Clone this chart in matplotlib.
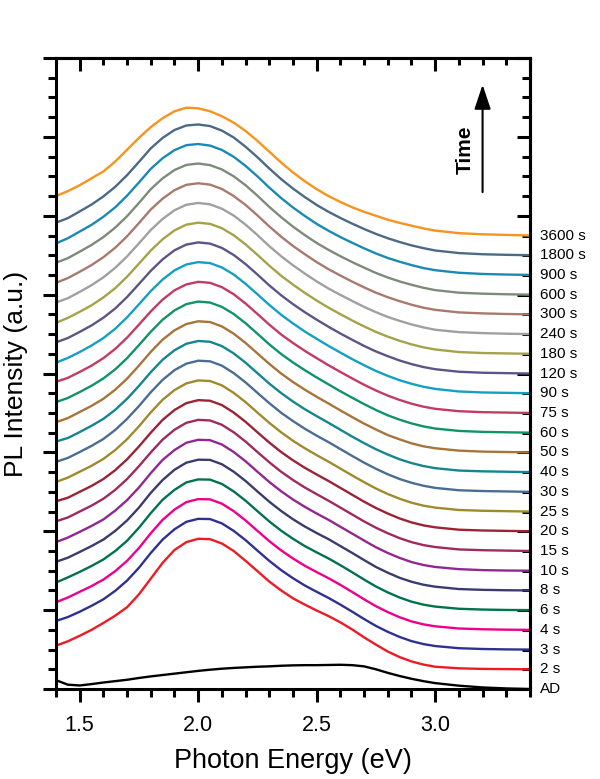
import matplotlib.pyplot as plt
from matplotlib.ticker import MultipleLocator, NullFormatter

plt.rcParams['font.family'] = ['Liberation Sans', 'DejaVu Sans']

energy = [1.40, 1.45, 1.50, 1.55, 1.60, 1.65, 1.70, 1.75, 1.80, 1.85, 1.90, 1.95,
          2.00, 2.05, 2.10, 2.15, 2.20, 2.25, 2.30, 2.35, 2.40, 2.45, 2.50, 2.55,
          2.60, 2.65, 2.70, 2.75, 2.80, 2.85, 2.90, 2.95, 3.00, 3.10, 3.20, 3.30, 3.40]

labels = ['AD', '2 s', '3 s', '4 s', '6 s', '8 s', '10 s', '15 s', '20 s', '25 s',
          '30 s', '40 s', '50 s', '60 s', '75 s', '90 s', '120 s', '180 s', '240 s',
          '300 s', '600 s', '900 s', '1800 s', '3600 s']

colors = ['#000000', '#ed1c24', '#2e3192', '#ec008c', '#00734a', '#3b3b6e', '#92278f',
          '#9e2a5e', '#9b2335', '#a08a2e', '#4b6d94', '#13868f', '#a8743a', '#0f9466',
          '#c23b62', '#13a0c4', '#5c5585', '#a6a24a', '#a0a0a0', '#a87a6e', '#7c8c78',
          '#1a8ab4', '#4a6a86', '#f7941d']

# PL intensity (a.u., before the stacking offset)
pl_ad = [0.45, 0.22, 0.18, 0.25, 0.33, 0.40, 0.47, 0.56, 0.64, 0.71, 0.78, 0.85,
         0.92, 0.98, 1.03, 1.07, 1.10, 1.13, 1.15, 1.18, 1.20, 1.21, 1.21, 1.22,
         1.23, 1.21, 1.15, 1.00, 0.82, 0.66, 0.52, 0.40, 0.30, 0.17, 0.08, 0.03, 0.00]
pl_2s = [1.20, 1.42, 1.70, 2.00, 2.35, 2.72, 3.15, 3.80, 4.60, 5.40, 6.05, 6.45,
         6.62, 6.60, 6.38, 6.00, 5.50, 4.98, 4.45, 4.00, 3.60, 3.28, 2.98, 2.70,
         2.38, 2.02, 1.62, 1.25, 0.90, 0.62, 0.40, 0.24, 0.13, 0.05, 0.02, 0.01, 0.00]
pl_3s = [1.45, 1.65, 1.92, 2.22, 2.55, 2.98, 3.50, 4.15, 4.90, 5.58, 6.10, 6.48,
         6.63, 6.62, 6.40, 6.02, 5.55, 5.02, 4.50, 4.03, 3.62, 3.25, 2.93, 2.62,
         2.28, 1.92, 1.55, 1.20, 0.90, 0.64, 0.43, 0.28, 0.18, 0.07, 0.03, 0.01, 0.00]
pl_4s = [1.40, 1.64, 1.93, 2.22, 2.55, 2.98, 3.50, 4.15, 4.90, 5.58, 6.10, 6.48,
         6.63, 6.62, 6.40, 6.02, 5.55, 5.02, 4.50, 4.03, 3.62, 3.25, 2.93, 2.62,
         2.28, 1.92, 1.55, 1.20, 0.90, 0.64, 0.43, 0.28, 0.18, 0.07, 0.03, 0.01, 0.00]
pl_6s = [1.40, 1.66, 1.94, 2.24, 2.57, 3.00, 3.52, 4.18, 4.92, 5.60, 6.10, 6.48,
         6.63, 6.62, 6.40, 6.02, 5.55, 5.02, 4.50, 4.03, 3.62, 3.25, 2.93, 2.62,
         2.28, 1.92, 1.55, 1.20, 0.90, 0.64, 0.43, 0.28, 0.18, 0.07, 0.03, 0.01, 0.00]
pl_8s = [1.45, 1.66, 1.95, 2.25, 2.58, 3.02, 3.55, 4.20, 4.95, 5.60, 6.12, 6.48,
         6.63, 6.62, 6.40, 6.02, 5.55, 5.02, 4.50, 4.03, 3.61, 3.24, 2.91, 2.60,
         2.25, 1.90, 1.54, 1.19, 0.90, 0.64, 0.44, 0.29, 0.19, 0.07, 0.03, 0.01, 0.00]
pl_10s = [1.45, 1.68, 1.97, 2.27, 2.60, 3.05, 3.58, 4.22, 4.95, 5.62, 6.12, 6.49,
          6.64, 6.62, 6.40, 6.02, 5.55, 5.02, 4.50, 4.03, 3.61, 3.24, 2.90, 2.58,
          2.23, 1.88, 1.53, 1.19, 0.90, 0.65, 0.44, 0.29, 0.19, 0.08, 0.03, 0.01, 0.00]
pl_15s = [1.50, 1.70, 2.00, 2.30, 2.65, 3.10, 3.65, 4.30, 5.00, 5.65, 6.15, 6.50,
          6.65, 6.62, 6.40, 6.02, 5.55, 5.02, 4.50, 4.02, 3.60, 3.22, 2.88, 2.55,
          2.20, 1.85, 1.50, 1.18, 0.90, 0.65, 0.45, 0.30, 0.20, 0.08, 0.04, 0.02, 0.00]
pl_20s = [1.52, 1.70, 2.00, 2.30, 2.65, 3.10, 3.65, 4.30, 5.00, 5.65, 6.15, 6.50,
          6.65, 6.62, 6.40, 6.02, 5.55, 5.02, 4.50, 4.02, 3.60, 3.22, 2.88, 2.55,
          2.20, 1.85, 1.50, 1.18, 0.90, 0.65, 0.45, 0.30, 0.20, 0.08, 0.04, 0.02, 0.00]
pl_25s = [1.50, 1.72, 2.02, 2.32, 2.67, 3.12, 3.67, 4.32, 5.03, 5.67, 6.16, 6.50,
          6.65, 6.62, 6.40, 6.02, 5.55, 5.02, 4.50, 4.02, 3.59, 3.21, 2.86, 2.53,
          2.18, 1.83, 1.49, 1.17, 0.89, 0.65, 0.45, 0.30, 0.20, 0.08, 0.04, 0.02, 0.00]
pl_30s = [1.52, 1.72, 2.02, 2.33, 2.68, 3.14, 3.70, 4.35, 5.05, 5.68, 6.17, 6.50,
          6.65, 6.62, 6.40, 6.02, 5.55, 5.02, 4.50, 4.01, 3.59, 3.20, 2.85, 2.52,
          2.17, 1.82, 1.48, 1.17, 0.89, 0.65, 0.46, 0.31, 0.20, 0.08, 0.04, 0.02, 0.00]
pl_40s = [1.55, 1.73, 2.03, 2.35, 2.70, 3.16, 3.72, 4.37, 5.07, 5.70, 6.18, 6.51,
          6.65, 6.61, 6.39, 6.02, 5.55, 5.02, 4.49, 4.01, 3.58, 3.19, 2.84, 2.50,
          2.15, 1.80, 1.47, 1.16, 0.89, 0.65, 0.46, 0.31, 0.20, 0.08, 0.04, 0.02, 0.00]
pl_50s = [1.53, 1.74, 2.05, 2.36, 2.72, 3.18, 3.74, 4.40, 5.10, 5.72, 6.19, 6.51,
          6.65, 6.61, 6.39, 6.02, 5.55, 5.02, 4.49, 4.00, 3.57, 3.18, 2.82, 2.48,
          2.13, 1.79, 1.46, 1.16, 0.88, 0.66, 0.46, 0.31, 0.21, 0.09, 0.04, 0.02, 0.00]
pl_60s = [1.55, 1.76, 2.06, 2.38, 2.75, 3.21, 3.78, 4.44, 5.12, 5.73, 6.20, 6.52,
          6.65, 6.60, 6.38, 6.02, 5.55, 5.02, 4.48, 3.99, 3.56, 3.17, 2.80, 2.45,
          2.10, 1.77, 1.45, 1.15, 0.88, 0.66, 0.47, 0.32, 0.21, 0.09, 0.04, 0.02, 0.00]
pl_75s = [1.58, 1.78, 2.08, 2.40, 2.78, 3.25, 3.82, 4.48, 5.15, 5.75, 6.22, 6.52,
          6.65, 6.60, 6.38, 6.02, 5.55, 5.02, 4.48, 3.98, 3.55, 3.15, 2.78, 2.42,
          2.08, 1.75, 1.43, 1.14, 0.88, 0.66, 0.47, 0.32, 0.21, 0.09, 0.04, 0.02, 0.00]
pl_90s = [1.55, 1.79, 2.09, 2.42, 2.80, 3.27, 3.85, 4.51, 5.18, 5.77, 6.23, 6.53,
          6.65, 6.60, 6.38, 6.02, 5.55, 5.02, 4.48, 3.98, 3.54, 3.13, 2.76, 2.40,
          2.06, 1.73, 1.42, 1.13, 0.88, 0.66, 0.48, 0.33, 0.22, 0.09, 0.04, 0.02, 0.00]
pl_120s = [1.58, 1.80, 2.11, 2.44, 2.83, 3.30, 3.88, 4.54, 5.21, 5.79, 6.25, 6.54,
           6.65, 6.59, 6.37, 6.01, 5.55, 5.02, 4.47, 3.97, 3.52, 3.11, 2.73, 2.37,
           2.03, 1.71, 1.40, 1.12, 0.88, 0.66, 0.48, 0.33, 0.22, 0.09, 0.04, 0.02, 0.00]
pl_180s = [1.57, 1.82, 2.13, 2.46, 2.86, 3.33, 3.91, 4.57, 5.24, 5.81, 6.26, 6.55,
           6.65, 6.59, 6.37, 6.01, 5.55, 5.02, 4.47, 3.96, 3.51, 3.09, 2.70, 2.34,
           2.01, 1.69, 1.39, 1.11, 0.87, 0.66, 0.48, 0.33, 0.22, 0.09, 0.04, 0.02, 0.00]
pl_240s = [1.60, 1.82, 2.14, 2.48, 2.88, 3.36, 3.94, 4.60, 5.28, 5.84, 6.28, 6.56,
           6.65, 6.58, 6.36, 6.01, 5.55, 5.02, 4.46, 3.95, 3.49, 3.07, 2.67, 2.31,
           1.99, 1.68, 1.38, 1.11, 0.87, 0.67, 0.49, 0.34, 0.22, 0.10, 0.05, 0.02, 0.00]
pl_300s = [1.60, 1.84, 2.16, 2.50, 2.90, 3.38, 3.96, 4.63, 5.32, 5.87, 6.30, 6.57,
           6.65, 6.58, 6.36, 6.00, 5.55, 5.02, 4.46, 3.94, 3.47, 3.05, 2.65, 2.29,
           1.97, 1.66, 1.37, 1.10, 0.87, 0.67, 0.49, 0.34, 0.23, 0.10, 0.05, 0.02, 0.00]
pl_600s = [1.62, 1.85, 2.18, 2.52, 2.92, 3.40, 3.98, 4.65, 5.35, 5.90, 6.32, 6.58,
           6.65, 6.57, 6.35, 6.00, 5.55, 5.02, 4.45, 3.93, 3.45, 3.02, 2.62, 2.27,
           1.95, 1.65, 1.37, 1.10, 0.87, 0.67, 0.50, 0.35, 0.23, 0.10, 0.05, 0.02, 0.00]
pl_900s = [1.60, 1.86, 2.20, 2.54, 2.95, 3.43, 4.02, 4.69, 5.38, 5.92, 6.33, 6.58,
           6.64, 6.56, 6.34, 5.99, 5.53, 5.00, 4.43, 3.90, 3.42, 2.99, 2.59, 2.24,
           1.92, 1.63, 1.35, 1.09, 0.86, 0.67, 0.50, 0.35, 0.24, 0.11, 0.05, 0.02, 0.00]
pl_1800s = [1.65, 1.88, 2.22, 2.57, 2.98, 3.47, 4.06, 4.73, 5.42, 5.95, 6.35, 6.58,
            6.63, 6.55, 6.32, 5.97, 5.50, 4.97, 4.40, 3.86, 3.38, 2.95, 2.55, 2.20,
            1.89, 1.60, 1.33, 1.08, 0.86, 0.67, 0.50, 0.36, 0.24, 0.11, 0.05, 0.02, 0.00]
pl_3600s = [2.00, 2.25, 2.55, 2.90, 3.25, 3.75, 4.35, 4.95, 5.50, 5.95, 6.30, 6.48,
            6.45, 6.30, 6.05, 5.72, 5.30, 4.80, 4.25, 3.70, 3.20, 2.75, 2.35, 2.00,
            1.70, 1.43, 1.20, 1.00, 0.80, 0.64, 0.50, 0.36, 0.25, 0.12, 0.06, 0.03, 0.00]

spectra = [pl_ad, pl_2s, pl_3s, pl_4s, pl_6s, pl_8s, pl_10s, pl_15s, pl_20s, pl_25s,
           pl_30s, pl_40s, pl_50s, pl_60s, pl_75s, pl_90s, pl_120s, pl_180s, pl_240s,
           pl_300s, pl_600s, pl_900s, pl_1800s, pl_3600s]

step = 1.0  # vertical offset between stacked spectra

fig = plt.figure(figsize=(6, 7.79), dpi=100)
ax = fig.add_axes([0.0933, 0.1155, 0.79, 0.81])

for k, (spec, col, lab) in enumerate(zip(spectra, colors, labels)):
    ax.plot(energy, [v + k * step for v in spec], color=col, lw=1.7)
    ax.text(1.022, k * step, lab, transform=ax.get_yaxis_transform(),
            ha='left', va='center', fontsize=11)

ax.set_xlim(1.4, 3.4)
ax.set_ylim(0, 32)
ax.xaxis.set_major_locator(MultipleLocator(0.5))
ax.xaxis.set_minor_locator(MultipleLocator(0.1))
ax.yaxis.set_major_locator(MultipleLocator(4))
ax.yaxis.set_minor_locator(MultipleLocator(1))
ax.yaxis.set_major_formatter(NullFormatter())
ax.tick_params(which='both', direction='out', width=2.2, labelsize=15.5, pad=9)
ax.tick_params(which='major', length=9.5)
ax.tick_params(which='minor', length=5.5)
for s in ax.spines.values():
    s.set_linewidth(2.2)

# mirrored ticks on top and right point inward
top = ax.secondary_xaxis('top')
top.xaxis.set_major_locator(MultipleLocator(0.5))
top.xaxis.set_minor_locator(MultipleLocator(0.1))
top.xaxis.set_major_formatter(NullFormatter())
top.tick_params(which='both', direction='in', width=2.2)
top.tick_params(which='major', length=9)
top.tick_params(which='minor', length=5)
top.spines['top'].set_linewidth(2.2)

right = ax.secondary_yaxis('right')
right.yaxis.set_major_locator(MultipleLocator(4))
right.yaxis.set_minor_locator(MultipleLocator(1))
right.yaxis.set_major_formatter(NullFormatter())
right.tick_params(which='both', direction='in', width=2.2)
right.tick_params(which='major', length=9.5)
right.tick_params(which='minor', length=5.5)
right.spines['right'].set_linewidth(2.2)

ax.set_xlabel('Photon Energy (eV)', fontsize=19.5, labelpad=9)
ax.set_ylabel('PL Intensity (a.u.)', fontsize=19, labelpad=1.5)

ax.annotate('', xy=(3.2, 30.65), xytext=(3.2, 25.2),
            arrowprops=dict(arrowstyle='-|>,head_length=0.75,head_width=0.25',
                            mutation_scale=20, lw=1.5, color='black',
                            shrinkA=0, shrinkB=0))
ax.text(3.127, 27.35, 'Time', rotation=90, ha='center', va='center',
        fontsize=15, fontweight='bold')

fig.savefig('out.png', dpi=100)
